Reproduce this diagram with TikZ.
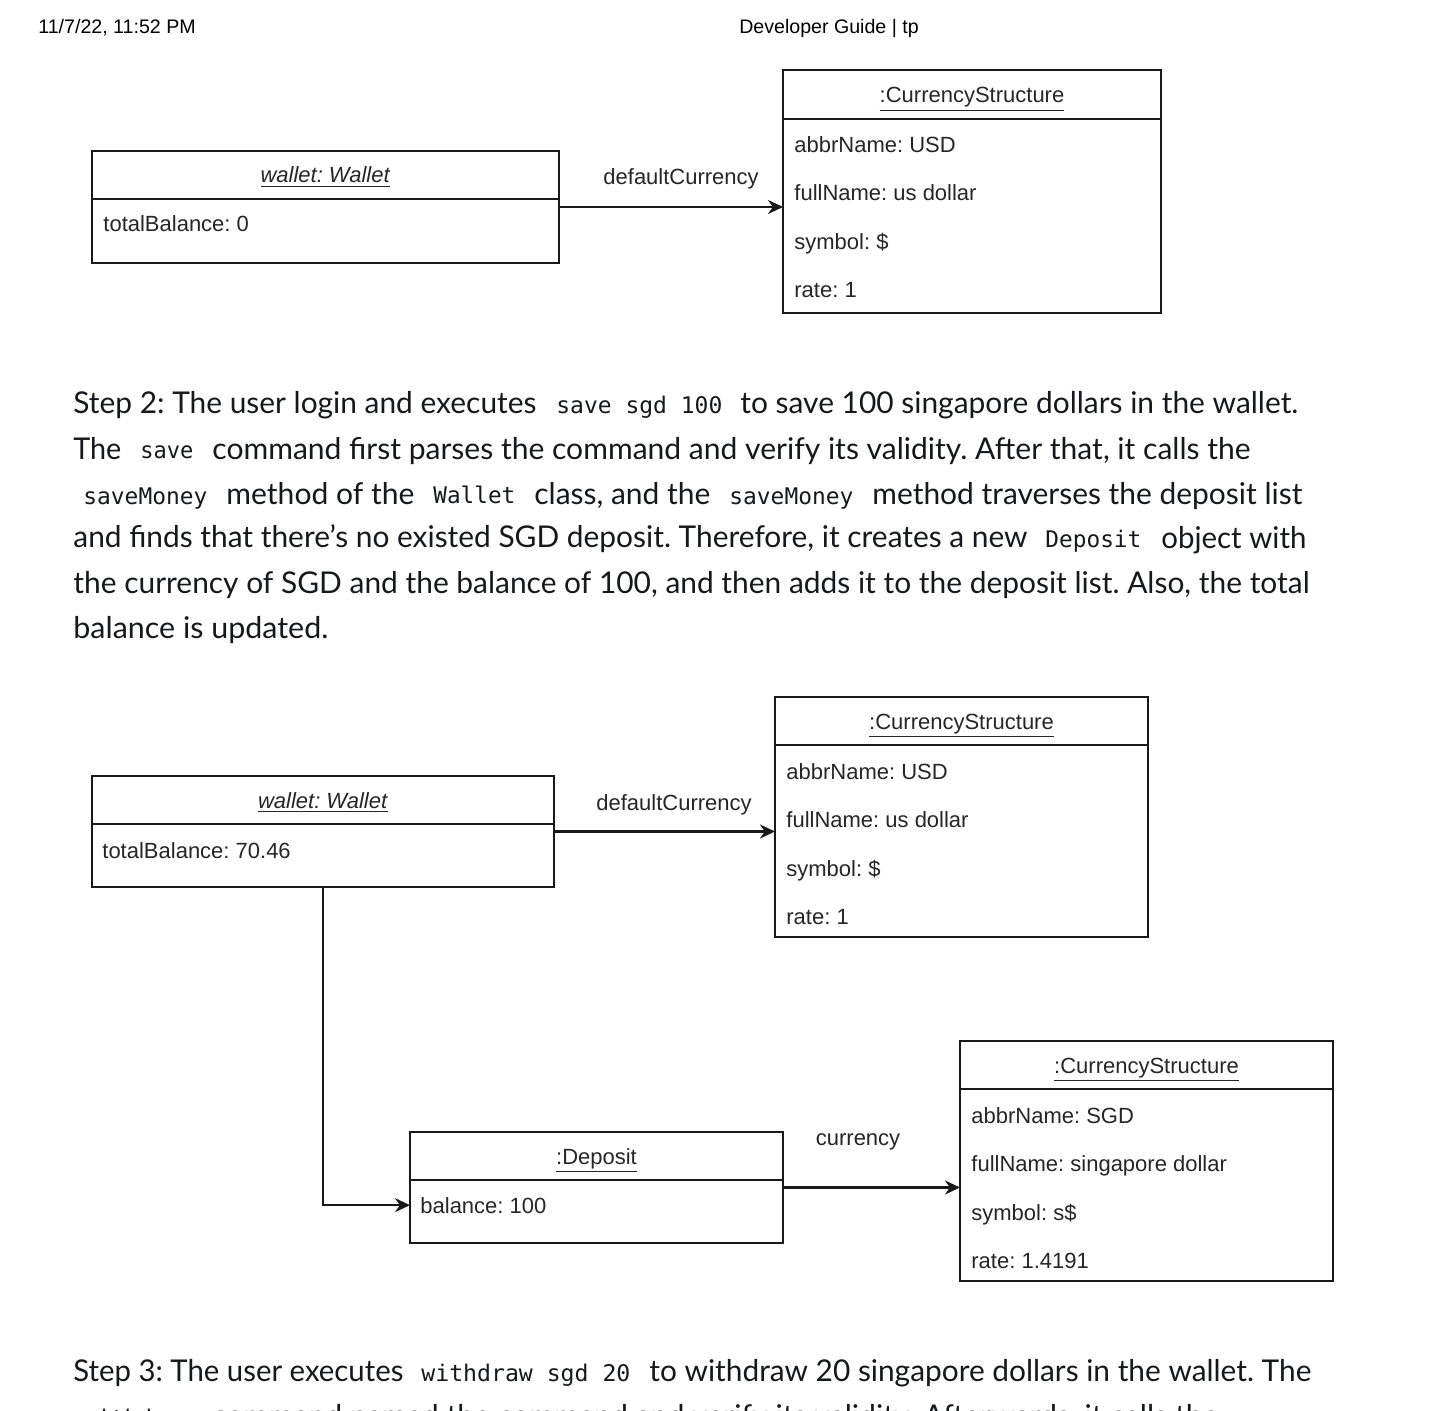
\documentclass[tikz,border=0pt]{standalone}
\usepackage{fontspec}
\usepackage{graphicx}
\usetikzlibrary{arrows.meta}
\newfontfamily\dfont{Liberation Sans}
\newfontfamily\pfont{Lato}
\newfontfamily\cfont{DejaVu Sans Mono}
\newdimen\px \px=0.5pt
\definecolor{ink}{RGB}{22,24,28}
\definecolor{dink}{RGB}{38,38,38}
\definecolor{bline}{RGB}{25,25,25}
\newcommand\ptxt{\pfont\fontsize{15}{18}\selectfont}
\newcommand\ctxt{\cfont\fontsize{11.45}{14}\selectfont}
\newcommand\fitw[2]{\resizebox{#1\px}{\height}{#2}}
\frenchspacing
\begin{document}
\begin{tikzpicture}[x=0.5pt,y=-0.5pt,
  umlbox/.style={draw=bline, line width=1pt, inner sep=0, outer sep=0, anchor=north west},
  divl/.style={draw=bline, line width=1pt},
  ttl/.style={font=\dfont\fontsize{11}{13}\selectfont, text=dink, inner sep=0, anchor=base},
  attr/.style={font=\dfont\fontsize{11}{13}\selectfont, text=dink, inner sep=0, anchor=base west},
  lbl/.style={font=\dfont\fontsize{11}{13}\selectfont, text=dink, inner sep=0, anchor=base},
  conn/.style={draw=bline, line width=1.1pt, -{Stealth[length=7.5pt,width=7pt]}},
  hdr/.style={font=\dfont\fontsize{9.8}{12}\selectfont, text=black, inner sep=0},
  seg/.style={inner sep=0, anchor=base west, text=ink},
]
\useasboundingbox[fill=white] (0,0) rectangle (1429,1411);
\clip (0,0) rectangle (1429,1411);

% header
\node[hdr, anchor=base west] (hdate) at (38,34) {11/7/22, 11:52 PM};
\node[hdr, anchor=base] (htitle) at (829,34) {Developer Guide | tp};

% ---------- diagram 1 ----------
\node[umlbox, minimum width=233.5pt, minimum height=56pt] (w1) at (92,151) {};
\draw[divl] (w1.west |- 0,199) -- (w1.east |- 0,199);
\node[ttl] (w1t) at (325.5,183) {\underline{\textit{wallet: Wallet}}};
\node[attr] (w1a) at (103,232) {totalBalance: 0};

\node[umlbox, minimum width=189pt, minimum height=121.5pt] (cs1) at (783,70) {};
\draw[divl] (cs1.west |- 0,119) -- (cs1.east |- 0,119);
\node[ttl] (cs1t) at (972,103) {\underline{:CurrencyStructure}};
\node[attr] (cs1a) at (794,153) {abbrName: USD};
\node[attr] (cs1b) at (794,201) {fullName: us dollar};
\node[attr] (cs1c) at (794,250) {symbol: \$};
\node[attr] (cs1d) at (794,298) {rate: 1};

\draw[conn] (w1.east) -- node[lbl, pos=0.545, yshift=11pt] (l1) {defaultCurrency} (w1.east -| cs1.west);

% ---------- paragraph ----------
\node[seg] (p1a) at (73,414) {\ptxt\fitw{463}{Step 2: The user login and executes}};
\node[seg] (p1b) at (556,414) {\ctxt\fitw{166}{save sgd 100}};
\node[seg] (p1c) at (740,414) {\ptxt\fitw{558}{to save 100 singapore dollars in the wallet.}};

\node[seg] (p2a) at (73,459) {\ptxt\fitw{48}{The}};
\node[seg] (p2b) at (140,459) {\ctxt\fitw{53}{save}};
\node[seg] (p2c) at (212,459) {\ptxt\fitw{1038}{command first parses the command and verify its validity. After that, it calls the}};

\node[seg] (p3a) at (83,504) {\ctxt\fitw{124}{saveMoney}};
\node[seg] (p3b) at (226,504) {\ptxt\fitw{188}{method of the}};
\node[seg] (p3c) at (433,504) {\ctxt\fitw{82}{Wallet}};
\node[seg] (p3d) at (534,504) {\ptxt\fitw{176}{class, and the}};
\node[seg] (p3e) at (729,504) {\ctxt\fitw{124}{saveMoney}};
\node[seg] (p3f) at (872,504) {\ptxt\fitw{430}{method traverses the deposit list}};

\node[seg] (p4a) at (73,548) {\ptxt\fitw{954}{and finds that there’s no existed SGD deposit. Therefore, it creates a new}};
\node[seg] (p4b) at (1045,548) {\ctxt\fitw{96}{Deposit}};
\node[seg] (p4c) at (1161,548) {\ptxt\fitw{145}{object with}};

\node[seg] (p5a) at (73,593) {\ptxt\fitw{1236}{the currency of SGD and the balance of 100, and then adds it to the deposit list. Also, the total}};
\node[seg] (p6a) at (73,638) {\ptxt\fitw{255}{balance is updated.}};

% ---------- diagram 2 ----------
\node[umlbox, minimum width=231pt, minimum height=55.5pt] (w2) at (92,776) {};
\draw[divl] (w2.west |- 0,824) -- (w2.east |- 0,824);
\node[ttl] (w2t) at (323,808) {\underline{\textit{wallet: Wallet}}};
\node[attr] (w2a) at (102,858) {totalBalance: 70.46};

\node[umlbox, minimum width=186.5pt, minimum height=120pt] (cs2) at (775,697) {};
\draw[divl] (cs2.west |- 0,745) -- (cs2.east |- 0,745);
\node[ttl] (cs2t) at (961.5,729) {\underline{:CurrencyStructure}};
\node[attr] (cs2a) at (786,779) {abbrName: USD};
\node[attr] (cs2b) at (786,827) {fullName: us dollar};
\node[attr] (cs2c) at (786,876) {symbol: \$};
\node[attr] (cs2d) at (786,924) {rate: 1};

\draw[conn] (w2.east) -- node[lbl, pos=0.543, yshift=10.5pt] (l2) {defaultCurrency} (w2.east -| cs2.west);

\node[umlbox, minimum width=186.5pt, minimum height=55.5pt] (dep) at (410,1132) {};
\draw[divl] (dep.west |- 0,1180) -- (dep.east |- 0,1180);
\node[ttl] (dept) at (596.5,1164) {\underline{:Deposit}};
\node[attr] (depa) at (420,1213) {balance: 100};

\node[umlbox, minimum width=186.5pt, minimum height=120pt] (cs3) at (960,1041) {};
\draw[divl] (cs3.west |- 0,1089) -- (cs3.east |- 0,1089);
\node[ttl] (cs3t) at (1146.5,1073) {\underline{:CurrencyStructure}};
\node[attr] (cs3a) at (971,1123) {abbrName: SGD};
\node[attr] (cs3b) at (971,1171) {fullName: singapore dollar};
\node[attr] (cs3c) at (971,1220) {symbol: s\$};
\node[attr] (cs3d) at (971,1268) {rate: 1.4191};

\draw[conn] (w2.south) |- (dep.west |- depa.center);
\draw[conn] (dep.east) -- node[lbl, pos=0.424, yshift=21pt] (l3) {currency} (dep.east -| cs3.west);

% ---------- step 3 ----------
\node[seg] (s3a) at (73,1381) {\ptxt\fitw{330}{Step 3: The user executes}};
\node[seg] (s3b) at (421,1381) {\ctxt\fitw{209}{withdraw sgd 20}};
\node[seg] (s3c) at (649,1381) {\ptxt\fitw{662}{to withdraw 20 singapore dollars in the wallet. The}};
\node[seg] (s4a) at (83,1426) {\ctxt\fitw{110}{withdraw}};
\node[seg] (s4b) at (212,1426) {\ptxt\fitw{1006}{command parsed the command and verify its validity. Afterwards, it calls the}};
\end{tikzpicture}
\end{document}
